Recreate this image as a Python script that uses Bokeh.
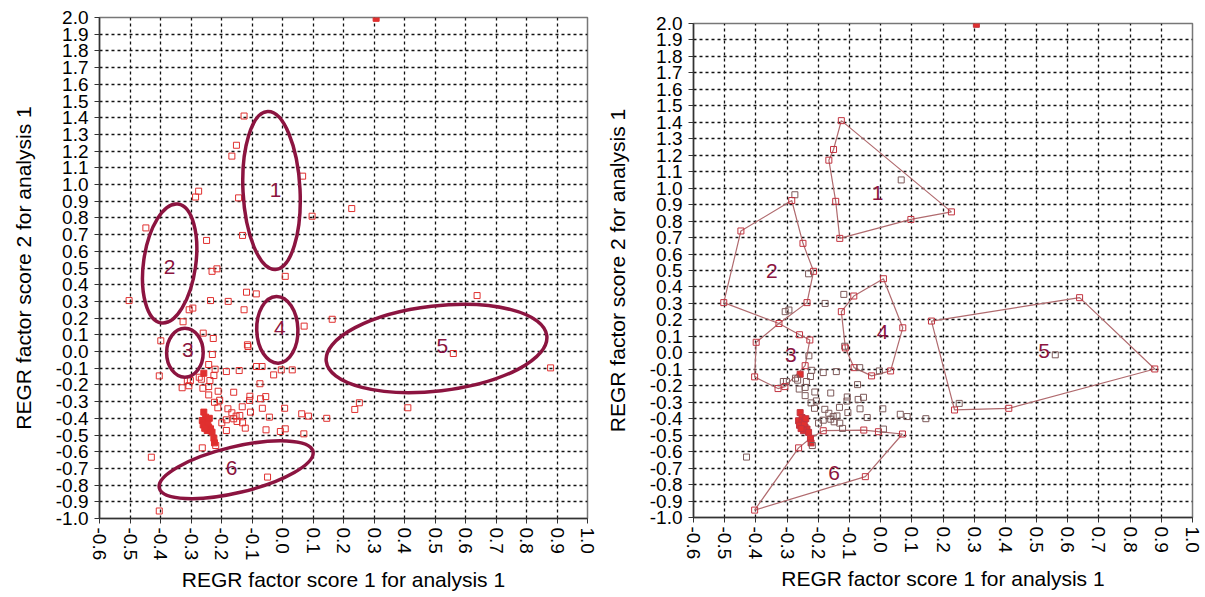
from bokeh.plotting import figure
from bokeh.layouts import row, column, Spacer
from bokeh.models import FixedTicker, NumeralTickFormatter, Range1d, ColumnDataSource
from bokeh.embed import file_html
from bokeh.resources import INLINE
from bokeh.core.properties import value

# ---------------- data ----------------
x_score = [
    0.307, -0.126, -0.151, -0.166, 0.066, -0.275, -0.285, -0.144, 0.097, 0.227,
    -0.448, -0.249, -0.131, 0.009, -0.215, -0.231, -0.118, -0.086, -0.503, -0.236,
    -0.178, 0.638, -0.306, -0.294, -0.126, -0.326, 0.071, 0.163, -0.26, -0.227,
    -0.399, -0.115, -0.113, -0.23, 0.56, 0.879, -0.242, -0.404, -0.221, -0.184,
    -0.142, -0.085, -0.067, -0.029, -0.004, 0.032, -0.258, -0.273, -0.266, -0.225,
    -0.238, -0.312, -0.302, -0.329, -0.307, -0.074, -0.261, -0.242, -0.211, -0.16,
    -0.107, -0.108, -0.072, -0.055, -0.223, -0.206, -0.242, -0.212, -0.179, -0.132,
    -0.066, 0.007, 0.252, 0.237, 0.411, -0.166, -0.152, -0.14, -0.16, -0.105,
    -0.184, -0.199, -0.122, -0.131, -0.149, -0.184, -0.043, -0.054, -0.007, 0.009,
    0.063, 0.085, 0.145, 0.07,
    -0.258, -0.252, -0.263, -0.252, -0.242, -0.236, -0.247, -0.231, -0.225, -0.223,
    -0.26, -0.245, -0.255, -0.24,
    -0.263, -0.43, -0.049, -0.219, -0.404,
]
y_score = [
    1.995, 1.41, 1.235, 1.17, 1.05, 0.96, 0.925, 0.92, 0.81, 0.856,
    0.74, 0.665, 0.695, 0.45, 0.495, 0.48, 0.355, 0.345, 0.305, 0.305,
    0.30, 0.335, 0.25, 0.26, 0.25, 0.178, 0.152, 0.193, 0.11, 0.078,
    0.064, 0.04, 0.03, -0.018, -0.012, -0.098, -0.078, -0.146, -0.106, -0.12,
    -0.114, -0.09, -0.09, -0.14, -0.11, -0.11, -0.13, -0.154, -0.166, -0.144,
    -0.174, -0.174, -0.174, -0.217, -0.205, -0.193, -0.22, -0.21, -0.238, -0.244,
    -0.268, -0.293, -0.283, -0.27, -0.304, -0.292, -0.26, -0.337, -0.343, -0.331,
    -0.34, -0.34, -0.307, -0.347, -0.337, -0.367, -0.387, -0.383, -0.403, -0.363,
    -0.409, -0.427, -0.459, -0.427, -0.419, -0.473, -0.393, -0.469, -0.479, -0.463,
    -0.373, -0.387, -0.40, -0.493,
    -0.363, -0.393, -0.413, -0.423, -0.453, -0.463, -0.473, -0.483, -0.519, -0.547,
    -0.44, -0.43, -0.46, -0.40,
    -0.577, -0.633, -0.752, -0.563, -0.955,
]
filled = [1] + [0] * 45 + [1] + [0] * 47 + [1] * 14 + [0] * 5

x_ticks = [-0.6, -0.5, -0.4, -0.3, -0.2, -0.1, 0.0, 0.1, 0.2, 0.3, 0.4, 0.5, 0.6, 0.7, 0.8, 0.9, 1.0]
y_ticks = [-1.0, -0.9, -0.8, -0.7, -0.6, -0.5, -0.4, -0.3, -0.2, -0.1, 0.0, 0.1, 0.2, 0.3, 0.4,
           0.5, 0.6, 0.7, 0.8, 0.9, 1.0, 1.1, 1.2, 1.3, 1.4, 1.5, 1.6, 1.7, 1.8, 1.9, 2.0]

x_title = "REGR factor score 1 for analysis 1"
y_title = "REGR factor score 2 for analysis 1"

cluster_names = ["1", "2", "3", "4", "5", "6"]

# left panel: cluster ellipses
ell_x = [-0.036, -0.370, -0.320, -0.017, 0.505, -0.152]
ell_y = [0.964, 0.527, -0.007, 0.130, 0.018, -0.708]
ell_w = [0.187, 0.171, 0.120, 0.135, 0.728, 0.518]
ell_h = [0.946, 0.719, 0.293, 0.400, 0.509, 0.275]
ell_angle = [0.05, -0.14, 0.0, 0.03, 0.115, 0.235]
lab_left_x = [-0.023, -0.370, -0.310, -0.009, 0.524, -0.167]
lab_left_y = [0.968, 0.505, 0.006, 0.140, 0.030, -0.700]

# right panel: cluster hulls
hull_xs = [
    [-0.126, 0.227, 0.097, -0.131, -0.144, -0.166, -0.151],
    [-0.448, -0.285, -0.249, -0.215, -0.236, -0.326, -0.503],
    [-0.326, -0.26, -0.227, -0.242, -0.307, -0.329, -0.404, -0.399],
    [0.009, 0.071, 0.032, -0.029, -0.085, -0.113, -0.126, -0.086],
    [0.163, 0.638, 0.879, 0.411, 0.237],
    [-0.404, -0.263, -0.225, -0.184, -0.054, -0.007, 0.07, -0.049],
]
hull_ys = [
    [1.41, 0.856, 0.81, 0.695, 0.92, 1.17, 1.235],
    [0.74, 0.925, 0.665, 0.495, 0.305, 0.178, 0.305],
    [0.178, 0.11, 0.078, -0.078, -0.205, -0.217, -0.146, 0.064],
    [0.45, 0.152, -0.11, -0.14, -0.09, 0.03, 0.25, 0.345],
    [0.193, 0.335, -0.098, -0.337, -0.347],
    [-0.955, -0.577, -0.519, -0.473, -0.469, -0.479, -0.493, -0.752],
]
lab_right_x = [-0.010, -0.349, -0.288, 0.006, 0.524, -0.149]
lab_right_y = [0.968, 0.494, -0.012, 0.124, 0.013, -0.730]

FONT = "Liberation Sans"
MAROON = "#8c1440"
RED = "#e0302f"


def base_fig(fw, fh, bl, br, bt, bb):
    p = figure(x_range=Range1d(-0.6, 1.0), y_range=Range1d(-1.0, 2.0),
               frame_width=fw, frame_height=fh,
               min_border_left=bl, min_border_right=br,
               min_border_top=bt, min_border_bottom=bb,
               title_location=None,
               output_backend="svg", toolbar_location=None,
               background_fill_color="white", border_fill_color="white")
    p.outline_line_color = "#777777"
    p.outline_line_width = 1.5
    for ax in (p.xaxis[0], p.yaxis[0]):
        ax.axis_line_color = "#333333"
        ax.axis_line_width = 1.5
        ax.major_tick_out = 5
        ax.major_tick_in = 0
        ax.major_tick_line_color = "#333333"
        ax.minor_tick_line_color = None
        ax.major_label_text_font = FONT
        ax.major_label_text_font_size = "19px"
        ax.major_label_text_color = "black"
        ax.axis_label_text_font = FONT
        ax.axis_label_text_font_size = "21px"
        ax.axis_label_text_font_style = "normal"
        ax.axis_label_text_color = "black"
        ax.formatter = NumeralTickFormatter(format="0.0")
    p.xaxis.ticker = FixedTicker(ticks=x_ticks)
    p.yaxis.ticker = FixedTicker(ticks=y_ticks)
    p.xaxis.major_label_orientation = "vertical"
    p.xaxis.major_label_standoff = 4
    p.yaxis.major_label_standoff = 6
    p.xaxis.axis_label_standoff = 5
    p.yaxis.axis_label_standoff = 18
    p.xaxis.axis_label = x_title
    p.yaxis.axis_label = y_title
    for g in (p.xgrid[0], p.ygrid[0]):
        g.grid_line_color = "#111111"
        g.grid_line_width = 1.3
        g.grid_line_dash = "3 3"
    return p


pts = ColumnDataSource(dict(x=x_score, y=y_score,
                            alpha=[1.0 if f else 0.0 for f in filled]))

# ---------- left panel ----------
p1 = base_fig(488, 501, 99, 10, 17, 78)
p1.scatter("x", "y", source=pts, marker="square", size=6, line_color=RED,
           line_width=1, fill_color=RED, fill_alpha="alpha")
p1.ellipse(x=ell_x, y=ell_y, width=ell_w, height=ell_h, angle=ell_angle,
           fill_alpha=0, line_color=MAROON, line_width=3.5)
p1.text(x=lab_left_x, y=lab_left_y, text=cluster_names, text_align="center",
        text_baseline="middle", text_font=value(FONT), text_font_size="21px",
        text_color=MAROON)

# ---------- right panel ----------
p2 = base_fig(499, 494, 96, 11, 17, 79)
vertex_set = set()
for hx, hy in zip(hull_xs, hull_ys):
    for a, b in zip(hx, hy):
        vertex_set.add((a, b))
is_vertex = [(a, b) in vertex_set for a, b in zip(x_score, y_score)]
pts2 = ColumnDataSource(dict(
    x=x_score, y=y_score,
    line=["#c2333f" if (v or f) else "#7d5a5a" for v, f in zip(is_vertex, filled)],
    alpha=[1.0 if f else 0.0 for f in filled]))
p2.patches(xs=hull_xs, ys=hull_ys, fill_alpha=0, line_color="#b06a6e", line_width=1.2)
p2.scatter("x", "y", source=pts2, marker="square", size=6, line_color="line",
           line_width=1, fill_color="#e0302f", fill_alpha="alpha")
p2.text(x=lab_right_x, y=lab_right_y, text=cluster_names, text_align="center",
        text_baseline="middle", text_font=value(FONT), text_font_size="21px",
        text_color=MAROON)

layout = row(p1, column(Spacer(width=10, height=6), p2))
open("out.html", "w").write(file_html(layout, INLINE))
